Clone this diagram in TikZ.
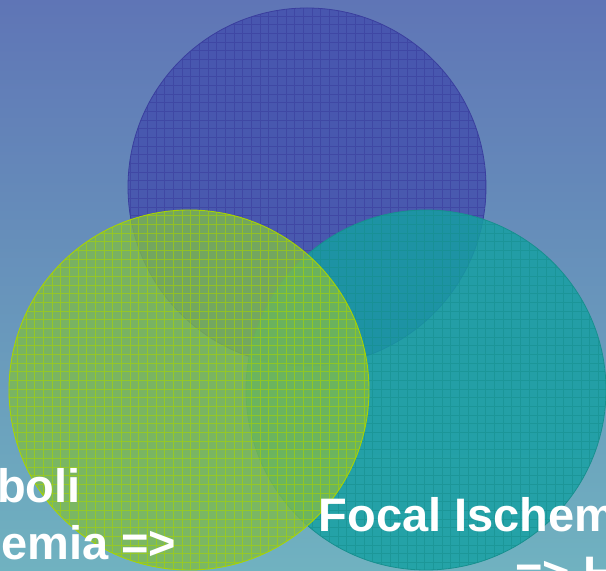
\documentclass[tikz,border=0pt]{standalone}
\usepackage{fontspec}
\setmainfont{Liberation Sans}
\definecolor{bgtop}{HTML}{5F75B6}
\definecolor{bgbot}{HTML}{70B2C0}
\definecolor{bluefill}{HTML}{4450AE}
\definecolor{blueline}{HTML}{3A3E9E}
\definecolor{tealfill}{HTML}{14A0A2}
\definecolor{tealline}{HTML}{17908F}
\definecolor{limefill}{HTML}{7EBA4C}
\definecolor{limeline}{HTML}{A8D400}
\tikzset{
  lbl/.style={anchor=base west, inner sep=0pt, text=white, font=\bfseries\fontsize{47}{56}\selectfont},
}
\begin{document}
\begin{tikzpicture}[x=1pt,y=1pt]
\useasboundingbox (0,0) rectangle (606,571);
\shade[top color=bgtop, bottom color=bgbot] (0,0) rectangle (606,571);
% top blue circle
\coordinate (cb) at (307,384);
\begin{scope}
  \clip (cb) circle (179);
  \fill[bluefill, fill opacity=0.84] (cb) circle (179);
  \draw[blueline, line width=0.7pt, opacity=0.6] (0,0) grid[step=8.67] (606,571);
\end{scope}
\draw[blueline, line width=0.8pt] (cb) circle (179);
% right teal circle
\coordinate (ct) at (426,181);
\begin{scope}
  \clip (ct) circle (180);
  \fill[tealfill, fill opacity=0.82] (ct) circle (180);
  \draw[tealline, line width=0.7pt, opacity=0.6] (0,0) grid[step=8.67] (606,571);
\end{scope}
\draw[tealline, line width=0.8pt] (ct) circle (180);
% left lime circle
\coordinate (cl) at (189,181);
\begin{scope}
  \clip (cl) circle (180);
  \fill[limefill, fill opacity=0.8] (cl) circle (180);
  \draw[limeline, line width=0.7pt, opacity=0.6] (0,0) grid[step=8.67] (606,571);
\end{scope}
\draw[limeline, line width=0.9pt] (cl) circle (180);
% labels
\node[lbl] (l1) at (-3,68) {boli};
\node[lbl] (l2) at (1,11) {emia =>};
\node[lbl] (r1) at (318.5,39) {Focal Ischem};
\node[lbl] (r2) at (515,-19) {=> H};
\end{tikzpicture}
\end{document}
